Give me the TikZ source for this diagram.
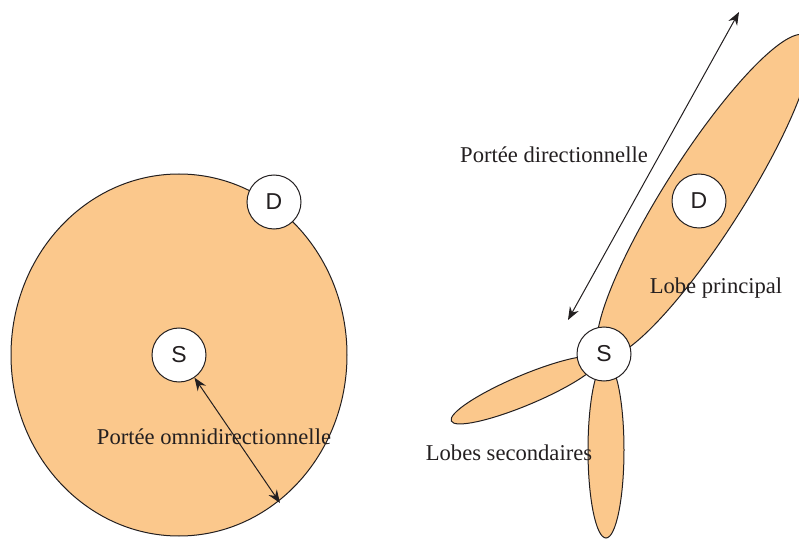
\documentclass[tikz,border=0pt]{standalone}
\usepackage{fontspec}
\setmainfont{Liberation Serif}
\newfontfamily\arialfont{Liberation Sans}
\usetikzlibrary{positioning,arrows.meta}
\definecolor{lobefill}{HTML}{FBC88C}
\definecolor{ink}{HTML}{231F20}
\tikzset{
  lobe/.style={draw=ink, fill=lobefill, line width=0.5pt},
  station/.style={circle, draw=ink, fill=white, line width=0.5pt, minimum size=27pt,
                  inner sep=0pt, font=\arialfont\fontsize{11.5}{13}\selectfont, text=ink},
  caption/.style={font=\fontsize{11.3}{13}\selectfont, text=ink, inner sep=0pt},
  reacharrow/.style={{Stealth[length=6.5pt,width=5pt,inset=2.2pt]}-{Stealth[length=6.5pt,width=5pt,inset=2.2pt]},
                draw=ink, line width=0.5pt}
}
\begin{document}
\begin{tikzpicture}[x=0.5pt, y=-0.5pt]
      \useasboundingbox (0,0) rectangle (799,540);
      \clip (0,0) rectangle (799,540);
      % omnidirectionnel
      \draw[lobe] (179,355) ellipse [x radius=168, y radius=181];
      \node[station] (sOmni) at (179,355) {S};
      \node[station] (dOmni) at (274,202) {D};
      \coordinate (omniEnd) at (280,503);
      \draw[reacharrow] (sOmni) -- (omniEnd);
      \node[caption] (omniLabel) at (214,437) {Portée omnidirectionnelle};
      % directionnel
      \draw[lobe, rotate around={57.5:(704,196)}] (704,196) ellipse [x radius=190, y radius=39];
      \draw[lobe, rotate around={22.8:(525,390)}] (525,390) ellipse [x radius=80, y radius=15];
      \draw[lobe] (606,450) ellipse [x radius=18, y radius=88];
      \node[station] (sDir) at (604,354) {S};
      \node[station] (dDir) at (699,201) {D};
      \coordinate (dirLow) at (568,320);
      \coordinate (dirHigh) at (739,12);
      \draw[reacharrow] (dirLow) -- (dirHigh);
      \node[caption] (dirLabel) at (554,155) {Portée directionnelle};
      \node[caption] (mainLabel) at (716,288) {Lobe principal};
      \node[caption] (sideLabel) at (509,453) {Lobes secondaires};
    \end{tikzpicture}
\end{document}
